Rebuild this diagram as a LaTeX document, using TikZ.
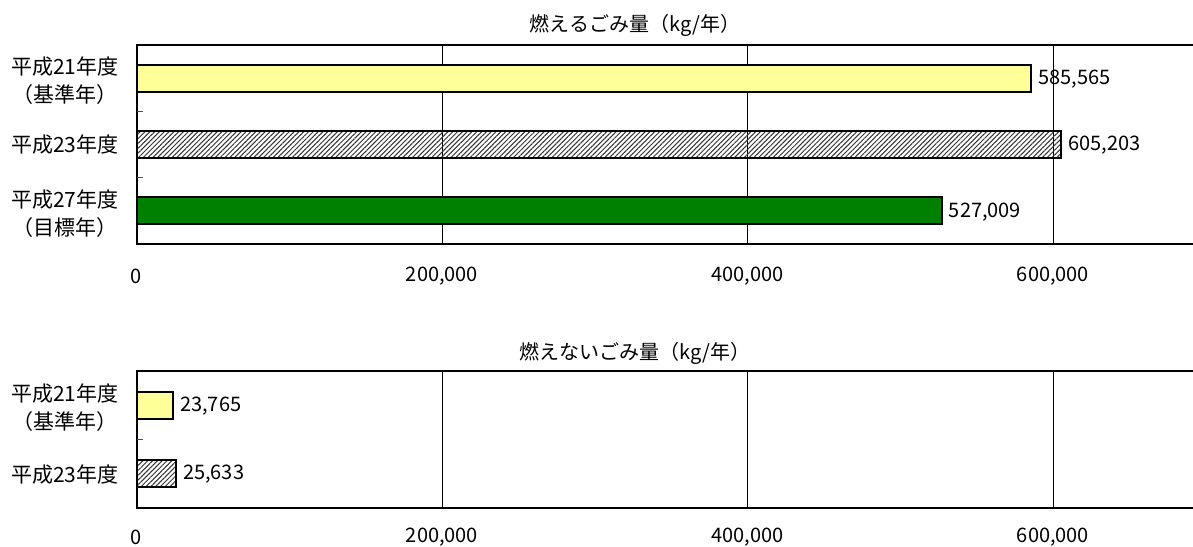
\documentclass[tikz,border=0pt]{standalone}
\usepackage{fontspec}
\setmainfont{Noto Sans CJK JP}
\usepackage{tikz}
\usetikzlibrary{patterns.meta}
\definecolor{baseYellow}{HTML}{FFFF99}
\definecolor{goalGreen}{HTML}{008000}
\newcommand{\gomibar}[5]{
	\draw[line width=1pt, #4] (136.5, #2) rectangle ({136.5 + 1.5275*#3}, #2 + 27);
	\node[vallab] (#1) at ({136.5 + 1.5275*#3 + 7}, #2 + 14.5) {#5};
}

\begin{document}
\begin{tikzpicture}[x=0.5pt, y=-0.5pt,
		vallab/.style={anchor=west, inner sep=0pt, font=\fontsize{10}{12}\selectfont},
		catlab/.style={anchor=east, inner sep=0pt, align=center, font=\fontsize{10.5}{14}\selectfont},
		ticklab/.style={inner sep=0pt, font=\fontsize{10}{12}\selectfont},
		hatched/.style={pattern={Lines[angle=45, distance=1.7pt, line width=0.5pt]}, pattern color=black!80}]
		\useasboundingbox (0,0) rectangle (1193,546);
		\clip (0,0) rectangle (1193,546);
		% titles
		\node[font=\fontsize{10}{12}\selectfont] (burnTitle) at (635,25) {燃えるごみ量（kg/年）};
		\node[font=\fontsize{10}{12}\selectfont] (nonburnTitle) at (635,353) {燃えないごみ量（kg/年）};
		% grid
		\foreach \k in {1,2,3} {
			\draw[line width=0.5pt] (136.5+305.5*\k, 45) -- (136.5+305.5*\k, 244);
			\draw[line width=0.5pt] (136.5+305.5*\k, 371) -- (136.5+305.5*\k, 508);
		}
		% bars, burnable
		\gomibar{bv1}{64.7}{585.565}{fill=baseYellow}{585,565}
		\gomibar{bv2}{131}{605.203}{hatched}{605,203}
		\gomibar{bv3}{197.3}{527.009}{fill=goalGreen}{527,009}
		% bars, non-burnable
		\gomibar{nv1}{391.5}{23.765}{fill=baseYellow}{23,765}
		\gomibar{nv2}{460}{25.633}{hatched}{25,633}
		% axes
		\draw[line width=1pt] (1220,45) -- (136.5,45) -- (136.5,244) -- (1220,244);
		\draw[line width=1pt] (1220,371) -- (136.5,371) -- (136.5,508) -- (1220,508);
		\draw[line width=0.5pt, black!70] (136.5,111.3) -- ++(6,0) (136.5,177.7) -- ++(6,0)
			(136.5,439.5) -- ++(6,0);
		\foreach \v/\t [count=\i] in {0/0, 1/{200,000}, 2/{400,000}, 3/{600,000}} {
			\node[ticklab] (bx\i) at (136.5+305.5*\v, 276) {\t};
			\node[ticklab] (nx\i) at (136.5+305.5*\v, 537) {\t};
		}
		% categories
		\node[catlab] (bc1) at (119,81) {平成21年度\\（基準年）};
		\node[catlab] (bc2) at (119,145) {平成23年度};
		\node[catlab] (bc3) at (119,213.5) {平成27年度\\（目標年）};
		\node[catlab] (nc1) at (119,408) {平成21年度\\（基準年）};
		\node[catlab] (nc2) at (119,475) {平成23年度};
	\end{tikzpicture}
\end{document}
